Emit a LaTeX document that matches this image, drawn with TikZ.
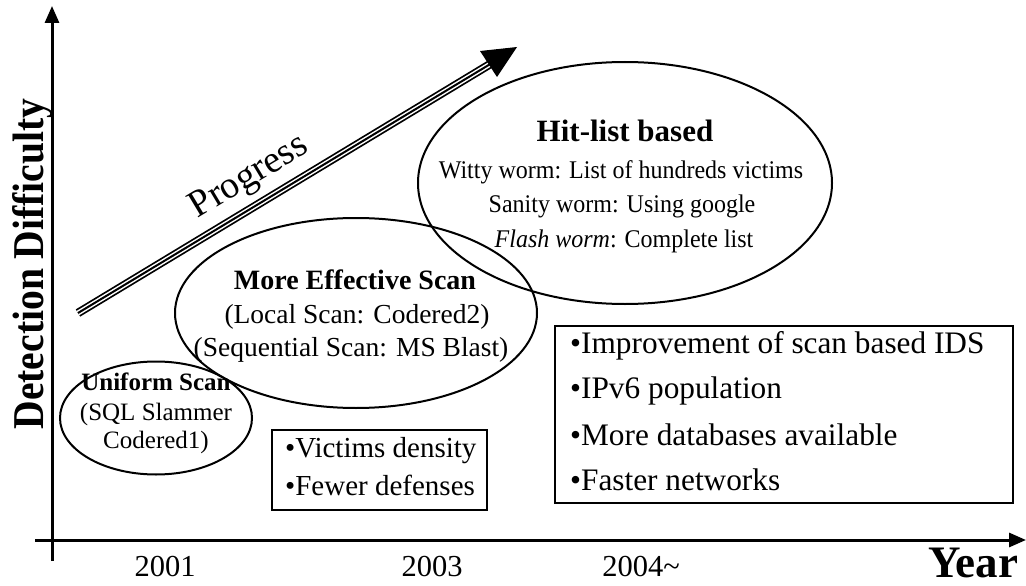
\documentclass[tikz,border=0pt]{standalone}
\usepackage{fontspec}
\setmainfont{Liberation Serif}
\usetikzlibrary{shapes.geometric,arrows.meta}

\begin{document}
\begin{tikzpicture}[x=1pt,y=-1pt,
  axis/.style={line width=3pt, -{Triangle[length=17pt,width=14pt]}},
  oval/.style={draw, ellipse, line width=2pt, inner sep=0pt},
  listbox/.style={draw, line width=2pt, inner sep=0pt},
  txt/.style={anchor=base, inner sep=0pt},
  lefttxt/.style={anchor=base west, inner sep=0pt},
  ovaltxt/.style={txt, font=\fontsize{27.5}{30}\selectfont},
  ovalhead/.style={txt, font=\fontsize{28}{30}\selectfont\bfseries},
  smallovaltxt/.style={txt, font=\fontsize{25}{30}\selectfont},
  hittxt/.style={txt, yscale=1.06, font=\fontsize{24}{28}\selectfont},
  itemtxt/.style={lefttxt, font=\fontsize{29}{34}\selectfont},
  bigitemtxt/.style={lefttxt, font=\fontsize{31.3}{34}\selectfont},
  yeartxt/.style={txt, font=\fontsize{30.5}{32}\selectfont}
]
\useasboundingbox (0,0) rectangle (1026,586);

% axes
\coordinate (ybottom) at (52,561);
\coordinate (ytop) at (52,6);
\coordinate (xleft) at (35,540);
\coordinate (xright) at (1026,540);
\draw[axis] (ybottom) -- (ytop);
\draw[axis] (xleft) -- (xright);

\node[txt, rotate=90, xscale=0.9, font=\fontsize{44}{48}\selectfont\bfseries]
  (ylabel) at (43,264) {Detection Difficulty};
\node[txt, font=\fontsize{45}{48}\selectfont\bfseries] (xlabel) at (973,577) {Year};

% years
\node[yeartxt] (y2001) at (165,576) {2001};
\node[yeartxt] (y2003) at (432,576) {2003};
\node[yeartxt] (y2004) at (641,576) {2004\textasciitilde};

% progress arrow (triple line with a solid head)
\coordinate (ptail) at (78,313);
\coordinate (pneck) at (492,63);
\coordinate (ptip) at (517,47);
\coordinate (phead1) at (480,51);
\coordinate (phead2) at (497,77);
\draw[line width=8.5pt] (ptail) -- (pneck);
\draw[line width=5pt, white] (ptail) -- (pneck);
\draw[line width=2pt] (ptail) -- (pneck);
\fill (ptip) -- (phead1) -- (phead2) -- cycle;
\node[txt, rotate=31, font=\fontsize{38}{40}\selectfont] (progress) at (254,185) {Progress};

% ovals
\node[oval, minimum width=192pt, minimum height=113pt] (uniform) at (156,418) {};
\node[oval, minimum width=362pt, minimum height=190pt] (effective) at (356,313) {};
\node[oval, minimum width=414pt, minimum height=242pt] (hitlist) at (625,183) {};

\node[txt, font=\fontsize{25}{30}\selectfont\bfseries] (u1) at (156,390) {Uniform Scan};
\node[smallovaltxt] (u2) at (156,420) {(SQL Slammer};
\node[smallovaltxt] (u3) at (156,448) {Codered1)};

\node[ovalhead] (e1) at (355,289) {More Effective Scan};
\node[ovaltxt] (e2) at (357,323) {(Local Scan: Codered2)};
\node[ovaltxt] (e3) at (351,356) {(Sequential Scan: MS Blast)};

\node[txt, font=\fontsize{31}{34}\selectfont\bfseries] (h1) at (625,141) {Hit-list based};
\node[hittxt] (h2) at (621,178) {Witty worm: List of hundreds victims};
\node[hittxt] (h3) at (622,212) {Sanity worm: Using google};
\node[hittxt] (h4) at (624,247) {\textit{Flash worm}: Complete list};

% factor boxes
\node[listbox, minimum width=215pt, minimum height=80pt] (smallbox) at (379.5,470) {};
\node[itemtxt] (s1) at (285,457) {•Victims density};
\node[itemtxt] (s2) at (285,495) {•Fewer defenses};

\node[listbox, minimum width=458pt, minimum height=177pt] (bigbox) at (784,414.5) {};
\node[bigitemtxt] (b1) at (570,353) {•Improvement of scan based IDS};
\node[bigitemtxt] (b2) at (570,398) {•IPv6 population};
\node[bigitemtxt] (b3) at (570,445) {•More databases available};
\node[bigitemtxt] (b4) at (570,490) {•Faster networks};
\end{tikzpicture}
\end{document}
